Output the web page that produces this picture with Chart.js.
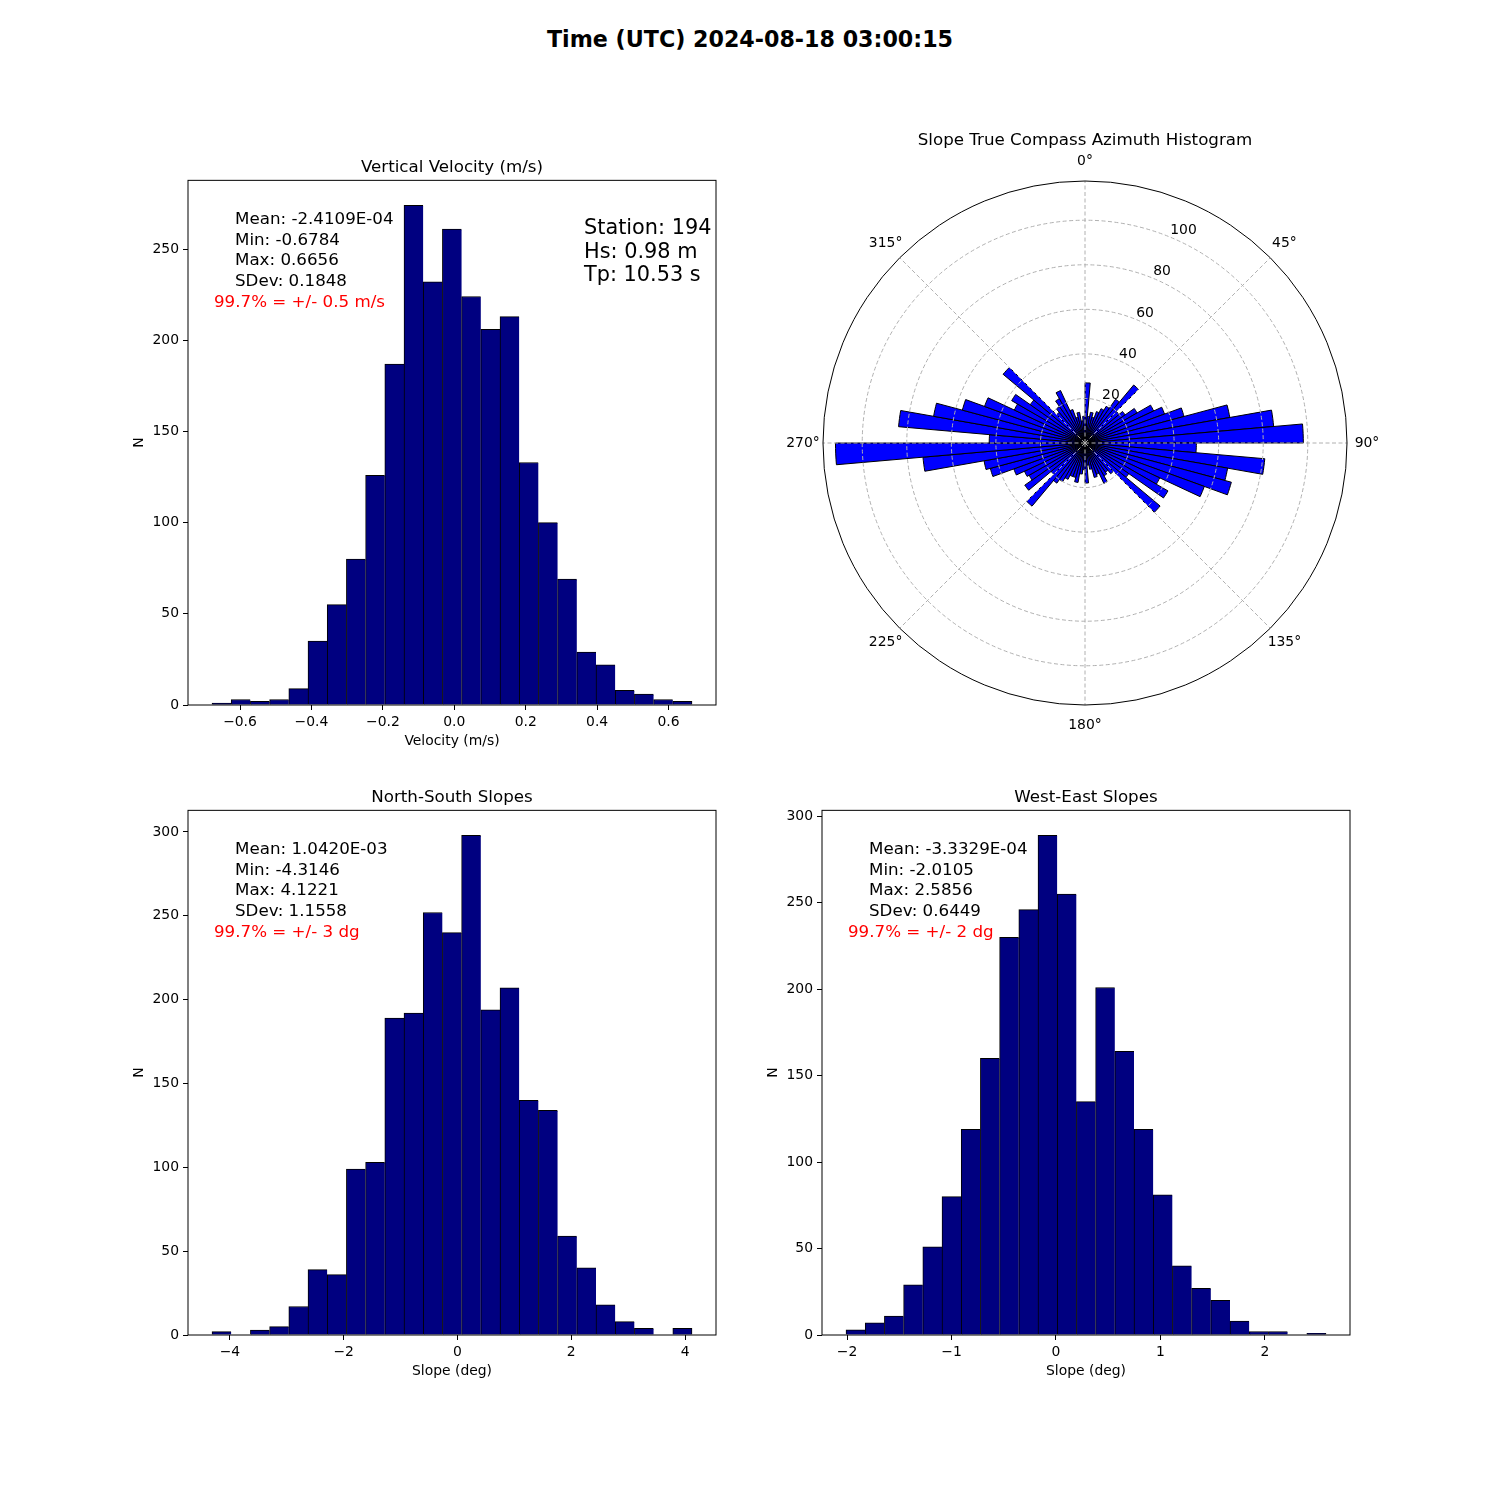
<!DOCTYPE html>
<html>
<head>
<meta charset="utf-8">
<script src="https://cdn.jsdelivr.net/npm/chart.js@4.4.1/dist/chart.umd.min.js"></script>
<style>
  body { margin: 0; background: #fff; }
  #page { position: relative; width: 1500px; height: 1500px; font-family: 'DejaVu Sans', sans-serif; color: #000; }
  canvas { position: absolute; }
  .txt { position: absolute; white-space: nowrap; line-height: 1; font-size: 16.7px; }
  .ttl { position: absolute; width: 600px; text-align: center; white-space: nowrap; line-height: 1; font-size: 16.7px; }
  .red { color: #f00; }
  .big { font-size: 20.83px; }
</style>
</head>
<body>
<div id="page">
  <canvas id="vv" width="609" height="586" style="left:127px;top:168px"></canvas>
  <canvas id="az" width="640" height="640" style="left:765px;top:120px"></canvas>
  <canvas id="ns" width="609" height="586" style="left:127px;top:798px"></canvas>
  <canvas id="we" width="609" height="586" style="left:761px;top:798px"></canvas>

  <div class="ttl" style="left:450px;top:28.2px;font-size:22.2px;font-weight:bold">Time (UTC) 2024-08-18 03:00:15</div>
  <div class="ttl" style="left:152px;top:157.6px">Vertical Velocity (m/s)</div>
  <div class="ttl" style="left:785px;top:130.9px">Slope True Compass Azimuth Histogram</div>
  <div class="ttl" style="left:152px;top:787.6px">North-South Slopes</div>
  <div class="ttl" style="left:786px;top:787.6px">West-East Slopes</div>

  <div class="txt" style="left:235px;top:209.9px">Mean: -2.4109E-04</div>
  <div class="txt" style="left:235px;top:230.6px">Min: -0.6784</div>
  <div class="txt" style="left:235px;top:251.4px">Max: 0.6656</div>
  <div class="txt" style="left:235px;top:272.1px">SDev: 0.1848</div>
  <div class="txt red" style="left:214px;top:292.9px">99.7% = +/- 0.5 m/s</div>
  <div class="txt big" style="left:584px;top:217.4px">Station: 194</div>
  <div class="txt big" style="left:584px;top:240.6px">Hs: 0.98 m</div>
  <div class="txt big" style="left:584px;top:263.8px">Tp: 10.53 s</div>

  <div class="txt" style="left:235px;top:839.9px">Mean: 1.0420E-03</div>
  <div class="txt" style="left:235px;top:860.6px">Min: -4.3146</div>
  <div class="txt" style="left:235px;top:881.4px">Max: 4.1221</div>
  <div class="txt" style="left:235px;top:902.1px">SDev: 1.1558</div>
  <div class="txt red" style="left:214px;top:922.9px">99.7% = +/- 3 dg</div>

  <div class="txt" style="left:869px;top:839.9px">Mean: -3.3329E-04</div>
  <div class="txt" style="left:869px;top:860.6px">Min: -2.0105</div>
  <div class="txt" style="left:869px;top:881.4px">Max: 2.5856</div>
  <div class="txt" style="left:869px;top:902.1px">SDev: 0.6449</div>
  <div class="txt red" style="left:848px;top:922.9px">99.7% = +/- 2 dg</div>
</div>
<script>
// vertical velocity histogram (25 bins between min and max)
const vvRange = [-0.6784, 0.6656];
const vvCounts = [1, 3, 2, 3, 9, 35, 55, 80, 126, 187, 274, 232, 261, 224, 206, 213, 133, 100, 69, 29, 22, 8, 6, 3, 2];
const vvTicks = [-0.6, -0.4, -0.2, 0, 0.2, 0.4, 0.6];
const vvTickLabels = ['\u22120.6', '\u22120.4', '\u22120.2', '0.0', '0.2', '0.4', '0.6'];
const vvCountTicks = [0, 50, 100, 150, 200, 250];

// north-south slopes
const nsRange = [-4.3146, 4.1221];
const nsCounts = [2, 0, 3, 5, 17, 39, 36, 99, 103, 189, 192, 252, 240, 298, 194, 207, 140, 134, 59, 40, 18, 8, 4, 0, 4];
const nsTicks = [-4, -2, 0, 2, 4];
const nsTickLabels = ['\u22124', '\u22122', '0', '2', '4'];

// west-east slopes
const weRange = [-2.0105, 2.5856];
const weCounts = [3, 7, 11, 29, 51, 80, 119, 160, 230, 246, 289, 255, 135, 201, 164, 119, 81, 40, 27, 20, 8, 2, 2, 0, 1];
const weTicks = [-2, -1, 0, 1, 2];
const weTickLabels = ['\u22122', '\u22121', '0', '1', '2'];

const slopeCountTicks = [0, 50, 100, 150, 200, 250, 300];

// azimuth histogram, 5 degree bins clockwise from north
const azCounts = [
  27, 12, 14, 12, 15, 17, 19, 24, 34,
  20, 22, 27, 34, 38, 46, 66, 85, 98,
  50, 81, 65, 68, 57, 37, 43, 24, 44,
  18, 16, 17, 20, 15, 16, 12, 10, 18,
  12, 14, 18, 16, 16, 18, 20, 22, 37,
  20, 33, 29, 30, 34, 44, 46, 73, 112,
  43, 84, 69, 57, 48, 35, 38, 30, 48,
  18, 20, 23, 26, 16, 12, 14, 10, 12
];
const azLabels = ['0°', '45°', '90°', '135°', '180°', '225°', '270°', '315°'];
const radialTicks = [20, 40, 60, 80, 100];

Chart.defaults.font.family = "'DejaVu Sans'";
Chart.defaults.font.size = 13.9;
Chart.defaults.color = '#000';

const frame = {
  id: 'frame',
  afterDatasetsDraw(chart) {
    const { ctx, chartArea: a } = chart;
    ctx.save();
    ctx.strokeStyle = '#000';
    ctx.lineWidth = 1;
    ctx.strokeRect(a.left, a.top, a.right - a.left, a.bottom - a.top);
    ctx.restore();
  }
};

const binCenters = (range, n) => {
  const w = (range[1] - range[0]) / n;
  return Array.from({ length: n }, (_, i) => range[0] + (i + 0.5) * w);
};

const tickMarks = { display: true, drawOnChartArea: false, drawTicks: true, tickLength: 5, color: '#000', lineWidth: 1, offset: false };

function drawHist(id, range, counts, xTicks, xTickLabels, yTicks, xTitle) {
  const centers = binCenters(range, counts.length);
  const pad = (range[1] - range[0]) * 0.05;
  new Chart(document.getElementById(id), {
    type: 'bar',
    data: {
      datasets: [{
        data: counts.map((c, i) => ({ x: centers[i], y: c })),
        backgroundColor: '#000080',
        borderColor: '#000',
        borderWidth: ctx => ({ top: 1, left: 1, bottom: 0, right: ctx.dataIndex === counts.length - 1 ? 1 : 0 }),
        barPercentage: 1.0,
        categoryPercentage: 1.0
      }]
    },
    options: {
      responsive: false,
      animation: false,
      layout: { padding: { top: 12, right: 20, left: 0, bottom: 0 } },
      plugins: { legend: { display: false }, tooltip: { enabled: false } },
      scales: {
        x: {
          type: 'linear',
          offset: false,
          min: range[0] - pad,
          max: range[1] + pad,
          afterBuildTicks: s => { s.ticks = xTicks.map(v => ({ value: v })); },
          afterFit: s => { s.height = 49; },
          grid: tickMarks,
          border: { display: false },
          ticks: { padding: 4, maxRotation: 0, autoSkip: false, callback: (v, i) => xTickLabels[i] },
          title: { display: true, text: xTitle }
        },
        y: {
          min: 0,
          max: Math.max(...counts) * 1.05,
          afterBuildTicks: s => { s.ticks = yTicks.map(v => ({ value: v })); },
          afterFit: s => { s.width = 61; },
          grid: tickMarks,
          border: { display: false },
          ticks: { padding: 4, autoSkip: false, callback: v => String(v) },
          title: { display: true, text: 'N' }
        }
      }
    },
    plugins: [frame]
  });
}

drawHist('vv', vvRange, vvCounts, vvTicks, vvTickLabels, vvCountTicks, 'Velocity (m/s)');
drawHist('ns', nsRange, nsCounts, nsTicks, nsTickLabels, slopeCountTicks, 'Slope (deg)');
drawHist('we', weRange, weCounts, weTicks, weTickLabels, slopeCountTicks, 'Slope (deg)');

// outer ring, compass labels and radial tick labels (at 22.5 deg)
const compass = {
  id: 'compass',
  afterDraw(chart) {
    const r = chart.scales.r;
    const ctx = chart.ctx;
    ctx.save();
    ctx.beginPath();
    ctx.arc(r.xCenter, r.yCenter, r.drawingArea, 0, Math.PI * 2);
    ctx.strokeStyle = '#000';
    ctx.lineWidth = 1;
    ctx.stroke();
    ctx.fillStyle = '#000';
    ctx.font = "13.9px 'DejaVu Sans'";
    ctx.textAlign = 'center';
    ctx.textBaseline = 'middle';
    azLabels.forEach((lab, j) => {
      const p = r.getPointPosition(j * 9, r.drawingArea + 20);
      ctx.fillText(lab, p.x, p.y);
    });
    ctx.textAlign = 'left';
    ctx.textBaseline = 'alphabetic';
    radialTicks.forEach(v => {
      const p = r.getPointPositionForValue(4.5, v);
      ctx.fillText(String(v), p.x, p.y - 3);
    });
    ctx.restore();
  }
};

new Chart(document.getElementById('az'), {
  type: 'polarArea',
  data: {
    labels: azCounts.map((_, i) => i * 5),
    datasets: [{
      data: azCounts,
      backgroundColor: '#0000ff',
      borderColor: '#000',
      borderWidth: 1
    }]
  },
  options: {
    responsive: false,
    animation: false,
    layout: { padding: { left: 58, right: 58, top: 61, bottom: 55 } },
    plugins: { legend: { display: false }, tooltip: { enabled: false } },
    scales: {
      r: {
        min: 0,
        max: Math.max(...azCounts) * 1.05,
        startAngle: 0,
        afterBuildTicks: s => { s.ticks = [0, ...radialTicks].map(v => ({ value: v })); },
        ticks: { display: false },
        pointLabels: { display: false },
        grid: { circular: true, color: '#b0b0b0', lineWidth: 1, z: 1 },
        border: { dash: [4, 2.5] },
        angleLines: {
          display: true,
          color: '#b0b0b0',
          lineWidth: c => (c.index % 9 === 0 ? 1 : 0),
          borderDash: [4, 2.5]
        }
      }
    }
  },
  plugins: [compass]
});
</script>
</body>
</html>
